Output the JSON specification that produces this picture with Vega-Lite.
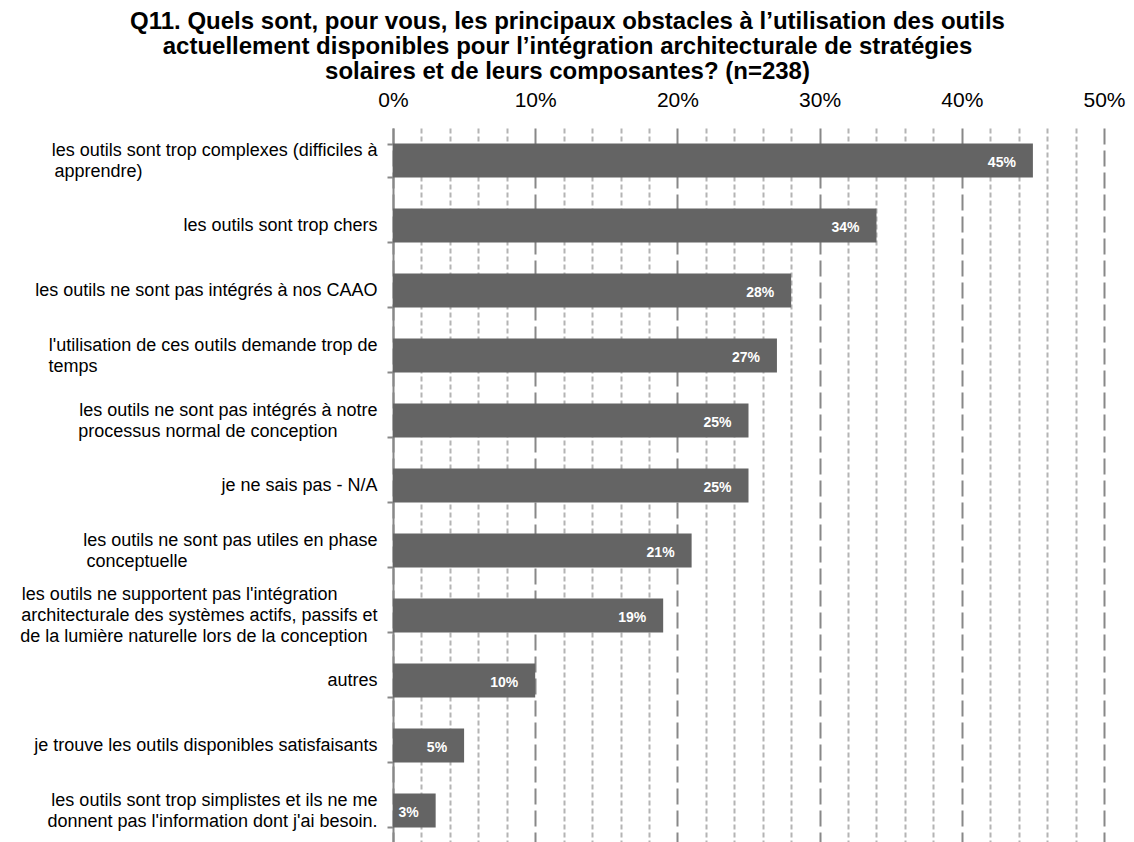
{
  "$schema": "https://vega.github.io/schema/vega-lite/v6.json",
  "width": 711,
  "height": 715,
  "autosize": "none",
  "padding": {"left": 393, "top": 128, "right": 30, "bottom": 0},
  "background": "white",
  "title": {
    "text": [
      "Q11. Quels sont, pour vous, les principaux obstacles à l’utilisation des outils",
      "actuellement disponibles pour l’intégration architecturale de stratégies",
      "solaires et de leurs composantes? (n=238)"
    ],
    "font": "Liberation Sans",
    "fontSize": 24,
    "fontWeight": "bold",
    "color": "black",
    "anchor": "middle",
    "frame": "group",
    "dx": -181,
    "lineHeight": 25,
    "offset": 5
  },
  "config": {
    "view": {"stroke": null},
    "axis": {"labelFont": "Liberation Sans", "labelColor": "black"}
  },
  "data": {
    "values": [
      {"obstacle": "les outils sont trop complexes (difficiles à|apprendre)", "part": 0.45},
      {"obstacle": "les outils sont trop chers", "part": 0.34},
      {"obstacle": "les outils ne sont pas intégrés à nos CAAO", "part": 0.28},
      {"obstacle": "l'utilisation de ces outils demande trop de|temps", "part": 0.27},
      {"obstacle": "les outils ne sont pas intégrés à notre|processus normal de conception", "part": 0.25},
      {"obstacle": "je ne sais pas - N/A", "part": 0.25},
      {"obstacle": "les outils ne sont pas utiles en phase|conceptuelle", "part": 0.21},
      {"obstacle": "les outils ne supportent pas l'intégration|architecturale des systèmes actifs, passifs et|de la lumière naturelle lors de la conception", "part": 0.19},
      {"obstacle": "autres", "part": 0.10},
      {"obstacle": "je trouve les outils disponibles satisfaisants", "part": 0.05},
      {"obstacle": "les outils sont trop simplistes et ils ne me|donnent pas l'information dont j'ai besoin.", "part": 0.03}
    ]
  },
  "encoding": {
    "y": {
      "field": "obstacle",
      "type": "nominal",
      "sort": null,
      "scale": {"paddingInner": 0.48, "paddingOuter": 0.24},
      "axis": {
        "title": null,
        "orient": "left",
        "labelExpr": "length(split(datum.label, '|')) === 1 ? datum.label : indexof(datum.label, 'supportent') >= 0 ? [pad(split(datum.label, '|')[0], length(split(datum.label, '|')[0]) + 8, '\u00a0') + '\u200b', split(datum.label, '|')[1], pad(split(datum.label, '|')[2], length(split(datum.label, '|')[2]) + 2, '\u00a0') + '\u200b'] : [split(datum.label, '|')[0], pad(split(datum.label, '|')[1], length(split(datum.label, '|')[1]) + (indexof(datum.label, 'complexes') >= 0 ? 47 : indexof(datum.label, 'demande') >= 0 ? 56 : indexof(datum.label, 'notre') >= 0 ? 8 : indexof(datum.label, 'phase') >= 0 ? 38 : 0), '\u00a0') + '\u200b']",
        "labelFontSize": 18,
        "labelLineHeight": 21,
        "labelLimit": 0,
        "labelPadding": 10,
        "labelOffset": {
          "condition": [
            {"test": "length(split(datum.value, '|')) === 3", "value": -21},
            {"test": "length(split(datum.value, '|')) === 2", "value": -10.5}
          ],
          "value": 0
        },
        "domainColor": "#888888",
        "domainWidth": 2,
        "tickColor": "#888888",
        "tickWidth": 2,
        "tickSize": 6,
        "tickBand": "extent",
        "grid": false
      }
    },
    "x": {
      "field": "part",
      "type": "quantitative",
      "scale": {"domain": [0, 0.5], "nice": false},
      "axis": {
        "title": null,
        "orient": "top",
        "values": [0, 0.02, 0.04, 0.06, 0.08, 0.1, 0.12, 0.14, 0.16, 0.18, 0.2, 0.22, 0.24, 0.26, 0.28, 0.3, 0.32, 0.34, 0.36, 0.38, 0.4, 0.42, 0.44, 0.46, 0.48, 0.5],
        "labelExpr": "round(datum.value * 100) % 10 === 0 ? format(datum.value, '.0%') : ''",
        "labelFontSize": 21,
        "labelPadding": 18,
        "labelFlush": false,
        "labelOverlap": false,
        "domain": false,
        "ticks": false,
        "tickSize": 0,
        "grid": true,
        "gridWidth": 2,
        "gridColor": {"condition": {"test": "round(datum.value * 100) % 10 === 0", "value": "#888888"}, "value": "#b4b4b4"},
        "gridDash": {"condition": {"test": "round(datum.value * 100) % 10 === 0", "value": [16, 6]}, "value": [5, 3]}
      }
    }
  },
  "layer": [
    {"mark": {"type": "bar", "color": "#646464"}},
    {
      "mark": {
        "type": "text",
        "align": "right",
        "baseline": "middle",
        "dx": -17,
        "dy": 2,
        "color": "white",
        "font": "Liberation Sans",
        "fontWeight": "bold",
        "fontSize": 14
      },
      "encoding": {
        "text": {"field": "part", "type": "quantitative", "format": ".0%"}
      }
    }
  ]
}
